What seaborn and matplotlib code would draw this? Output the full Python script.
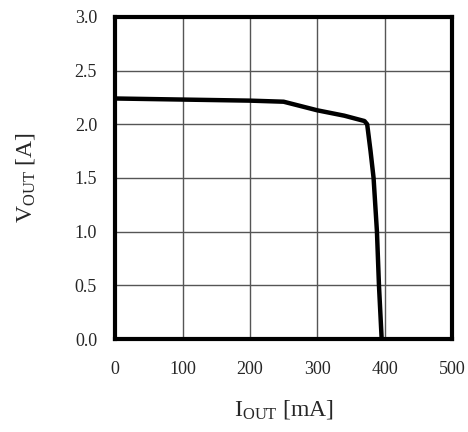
import numpy as np
import pandas as pd
import matplotlib
matplotlib.use("Agg")
import matplotlib.pyplot as plt
import seaborn as sns

# curve
i_out = [0, 100, 200, 250, 300, 340, 370, 374, 376, 379, 383.5, 388.5, 391.5, 395.5]
v_out = [2.24, 2.23, 2.22, 2.21, 2.13, 2.08, 2.03, 2.0, 1.9, 1.75, 1.5, 1.0, 0.5, 0.0]

x_ticks = [0, 100, 200, 300, 400, 500]
y_ticks = [0.0, 0.5, 1.0, 1.5, 2.0, 2.5, 3.0]

sns.set_style("white")
plt.rcParams['font.family'] = ['Liberation Serif', 'DejaVu Serif']
plt.rcParams['mathtext.fontset'] = 'custom'
plt.rcParams['mathtext.rm'] = 'Liberation Serif'

df = pd.DataFrame({"I": i_out, "V": v_out})

fig = plt.figure(figsize=(4.68, 4.32), dpi=100)
ax = fig.add_axes([0.246, 0.215, 0.72, 0.746])

sns.lineplot(data=df, x="I", y="V", ax=ax, color="black", linewidth=3.2,
             sort=False, estimator=None)

ax.set_xlim(0, 500)
ax.set_ylim(0, 3.0)
ax.set_xticks(x_ticks)
ax.set_yticks(y_ticks)
ax.set_yticklabels([f"{v:.1f}" for v in y_ticks])
ax.grid(True, color="#555555", linewidth=1.0)
ax.set_axisbelow(True)
ax.tick_params(length=0, labelsize=13)
ax.tick_params(axis="x", pad=16)
ax.tick_params(axis="y", pad=13)
for s in ax.spines.values():
    s.set_visible(True)
    s.set_color("black")
    s.set_linewidth(3)

ax.set_xlabel(r"$\mathrm{I_{OUT}}$ [mA]", fontsize=17, labelpad=14)
ax.set_ylabel(r"$\mathrm{V_{OUT}}$ [A]", fontsize=17, labelpad=27)

fig.savefig("out.png", dpi=100)
